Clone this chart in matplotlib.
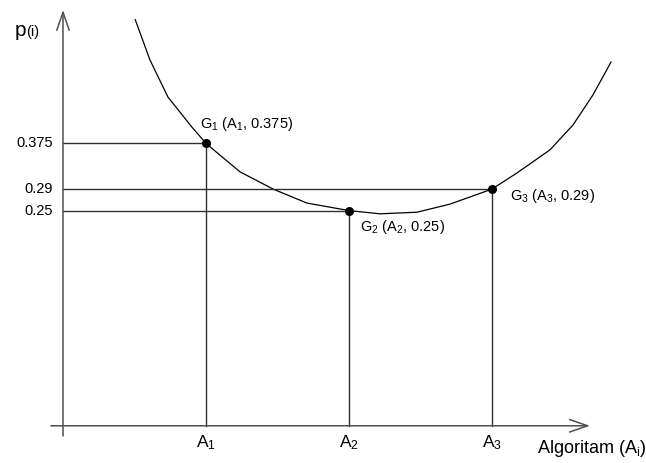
import matplotlib
matplotlib.use('Agg')
import matplotlib.pyplot as plt

plt.rcParams['font.family'] = ['Liberation Sans', 'DejaVu Sans']
plt.rcParams['mathtext.default'] = 'regular'

# algorithms on the x axis and their p(i) values
alg_x = [1, 2, 3]
alg_labels = ['A$_1$', 'A$_2$', 'A$_3$']
p_vals = [0.375, 0.25, 0.29]
p_ticks = ['0.375', '0.25', '0.29']
point_names = ['G$_1$ (A$_1$, 0.375)', 'G$_2$ (A$_2$, 0.25)', 'G$_3$ (A$_3$, 0.29)']

# hand drawn curve
curve_x = [0.505, 0.608, 0.734, 0.902, 1.0, 1.098, 1.238, 1.469, 1.706, 2.0,
           2.217, 2.476, 2.706, 3.0, 3.175, 3.406, 3.566, 3.706, 3.832]
curve_y = [0.605, 0.530, 0.461, 0.405, 0.375, 0.353, 0.322, 0.290, 0.264, 0.25,
           0.244, 0.247, 0.262, 0.29, 0.320, 0.363, 0.409, 0.465, 0.526]

x_axis_y = -0.15

fig = plt.figure(figsize=(6.46, 4.63), dpi=100)
ax = fig.add_axes([0, 0, 1, 1])
ax.set_xlim(-63 / 143, 583 / 143)
ax.set_ylim(0.305 - 282 / 538, 0.305 + 181 / 538)
ax.axis('off')

axis_col = '#505050'
arrow = dict(arrowstyle='->,head_length=1.3,head_width=0.45', color=axis_col,
             lw=1.1, shrinkA=0, shrinkB=0)
# axes with open arrow heads
ax.annotate('', xy=(3.685, x_axis_y), xytext=(-0.085, x_axis_y), arrowprops=arrow)
ax.annotate('', xy=(0, 0.623), xytext=(0, -0.169), arrowprops=arrow)

ax.plot(curve_x, curve_y, color='black', lw=0.9)

for x, y, tl, al, name, off in zip(alg_x, p_vals, p_ticks, alg_labels, point_names,
                                   [(-4, 14), (8, -11.5), (13, -5)]):
    ax.plot([0, x], [y, y], color='#303030', lw=1.0)
    ax.plot([x, x], [x_axis_y, y], color='#303030', lw=1.0)
    ax.plot(x, y, 'o', color='black', ms=5.5)
    ax.annotate(tl, xy=(0, y), xytext=(-7.5, 0), textcoords='offset points',
                ha='right', va='center', fontsize=10.5)
    ax.annotate(al, xy=(x, x_axis_y), xytext=(0, -12),
                textcoords='offset points', ha='center', va='center', fontsize=12.5)
    ax.annotate(name, xy=(x, y), xytext=off,
                textcoords='offset points', ha='left', va='center', fontsize=10.5)

ax.text(1.0, 0.008, 'Algoritam (A$_i$)', transform=fig.transFigure,
        ha='right', va='bottom', fontsize=13)
ax.text(15 / 646, 1 - 36 / 463, 'p', transform=fig.transFigure,
        ha='left', va='baseline', fontsize=15)
ax.text(26.5 / 646, 1 - 36 / 463, '(i)', transform=fig.transFigure,
        ha='left', va='baseline', fontsize=10.5)

fig.savefig('out.png', dpi=100)
